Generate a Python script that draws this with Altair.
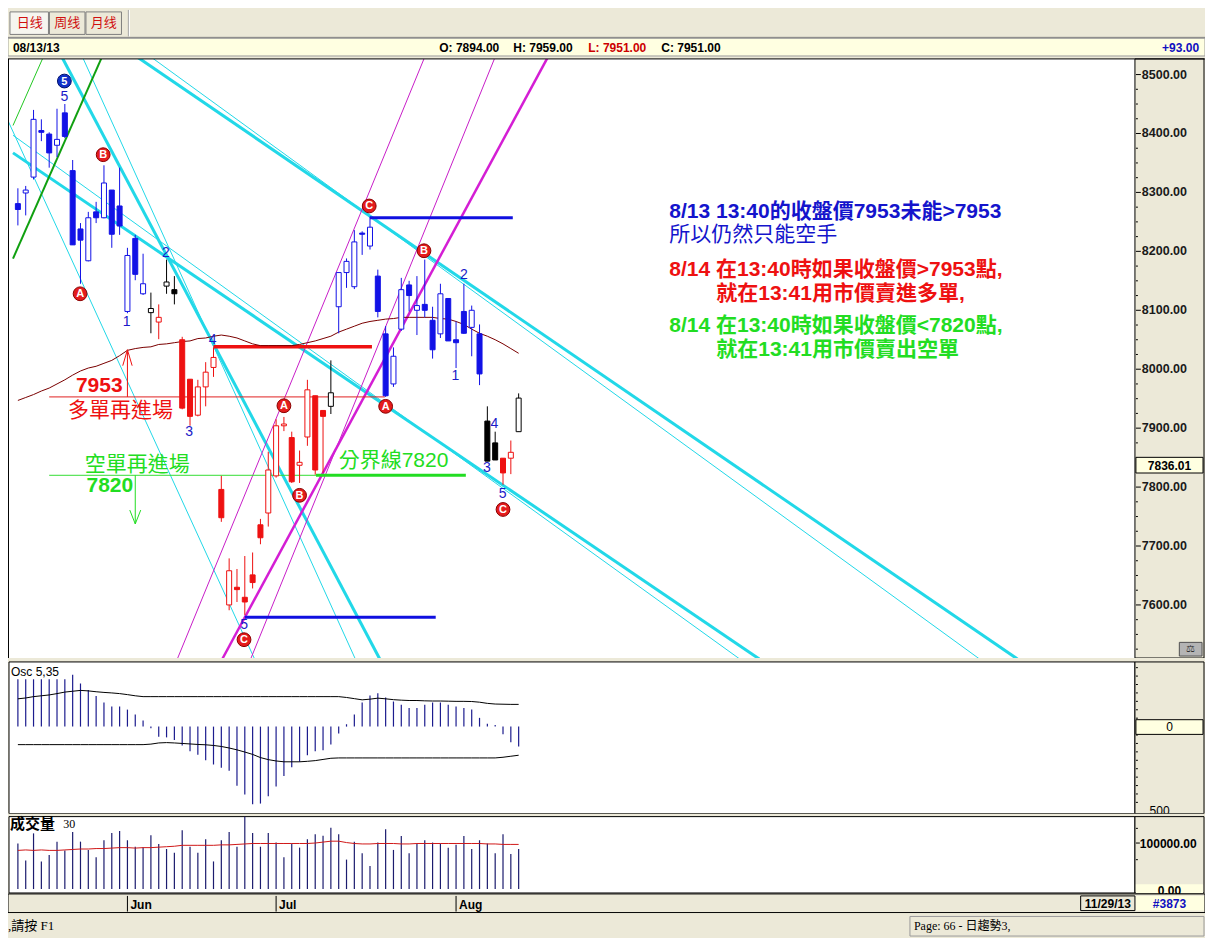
import altair as alt
import pandas as pd

# ---------------- data (bar 0 = 2013-05-14 ... bar 64 = 2013-08-13) ----------------
OPEN = [8281, 8299, 8326, 8405, 8399, 8380, 8435, 8337, 8238, 8184,
        8267, 8257, 8304, 8277, 8098, 8222, 8128, 8096, 8080, 8141,
        8135, 8050, 7983, 7922, 7970, 8003, 7796, 7600, 7630, 7613,
        7651, 7736, 7756, 7819, 7904, 7884, 7837, 7885, 7955, 7930,
        7937, 8106, 8164, 8140, 8231, 8209, 8158, 8060, 7975, 8068,
        8143, 8100, 8110, 8083, 8060, 8120, 8050, 8098, 8071, 8060,
        7912, 7875, 7849, 7849, 7894]
HIGH = [8307, 8311, 8440, 8424, 8402, 8442, 8450, 8355, 8248, 8267,
        8284, 8346, 8304, 8342, 8206, 8228, 8196, 8130, 8110, 8186,
        8158, 8055, 7983, 7982, 8012, 8037, 7819, 7679, 7661, 7683,
        7689, 7746, 7860, 7915, 7919, 7894, 7862, 7982, 7955, 7930,
        8015, 8164, 8188, 8236, 8234, 8259, 8169, 8073, 8037, 8155,
        8150, 8158, 8186, 8106, 8145, 8120, 8081, 8145, 8108, 8076,
        7937, 7894, 7849, 7879, 7959]
LOW = [8244, 8261, 8322, 8387, 8342, 8360, 8392, 8211, 8145, 8183,
       8248, 8256, 8206, 8228, 8095, 8151, 8126, 8061, 8051, 8128,
       8110, 7932, 7904, 7920, 7937, 7987, 7741, 7591, 7605, 7583,
       7628, 7703, 7733, 7816, 7895, 7807, 7807, 7870, 7821, 7824,
       7924, 8061, 8138, 8136, 8194, 8203, 8088, 7953, 7970, 8065,
       8098, 8058, 8088, 8018, 8053, 8048, 8002, 8060, 8022, 7973,
       7844, 7846, 7804, 7822, 7894]
CLOSE = [8271, 8304, 8424, 8402, 8367, 8390, 8395, 8211, 8219, 8257,
         8257, 8316, 8229, 8243, 8193, 8161, 8145, 8103, 8088, 8148,
         8128, 7934, 7920, 7970, 7995, 8020, 7748, 7658, 7626, 7605,
         7638, 7714, 7829, 7904, 7907, 7809, 7842, 7965, 7829, 7920,
         7960, 8164, 8183, 8216, 8229, 8241, 8098, 7955, 8022, 8135,
         8125, 8108, 8100, 8033, 8128, 8048, 8045, 8061, 8100, 7992,
         7844, 7846, 7824, 7859, 7951]
GROUP = (["blue"] * 17 + ["black", "red", "black", "black"] + ["red"] * 19
         + ["black"] + ["blue"] * 19 + ["black", "black", "red", "red", "black"])
MA = [7947, 7952, 7957, 7963, 7968, 7975, 7982, 7990, 7997, 8002,
      8005, 8010, 8015, 8023, 8032, 8035, 8037, 8038, 8042, 8043,
      8045, 8047, 8048, 8052, 8053, 8056, 8058, 8056, 8053, 8048,
      8043, 8040, 8040, 8040, 8040, 8040, 8042, 8045, 8048, 8052,
      8056, 8063, 8068, 8073, 8078, 8081, 8083, 8085, 8086, 8088,
      8088, 8088, 8088, 8088, 8086, 8085, 8081, 8076, 8068, 8061,
      8056, 8050, 8043, 8035, 8027]
OSC = [281, 281, 281, 281, 281, 281, 281, 308, 256, 217,
       182, 143, 120, 120, 101, 72, 37, -10, -60, -64,
       -80, -112, -147, -167, -200, -225, -244, -262, -351, -403,
       -461, -457, -413, -355, -293, -242, -209, -170, -147, -141,
       -106, -41, 14, 72, 143, 184, 198, 173, 149, 130,
       110, 110, 130, 143, 143, 130, 120, 110, 101, 52,
       17, 10, -45, -93, -118]
OSC_UP = [165, 170, 178, 183, 188, 196, 205, 210, 215, 212,
          207, 203, 200, 196, 190, 183, 178, 178, 178, 178,
          178, 178, 178, 178, 178, 178, 178, 178, 178, 178,
          178, 178, 178, 178, 178, 178, 178, 178, 178, 178,
          178, 178, 173, 166, 159, 163, 169, 165, 160, 157,
          155, 155, 153, 152, 152, 151, 150, 150, 149, 145,
          138, 134, 133, 132, 132]
OSC_DN = [-107, -107, -107, -107, -107, -107, -107, -107, -107, -107,
          -107, -107, -107, -107, -107, -107, -107, -104, -97, -95,
          -97, -100, -103, -106, -108, -112, -118, -127, -138, -151,
          -165, -184, -196, -204, -209, -209, -209, -206, -202, -195,
          -188, -186, -186, -186, -186, -186, -186, -186, -186, -186,
          -186, -186, -186, -186, -186, -186, -186, -186, -186, -186,
          -186, -186, -182, -176, -170]
VOL = [99, 62, 121, 60, 74, 103, 84, 124, 103, 85,
       69, 106, 122, 126, 106, 92, 91, 117, 98, 87,
       79, 128, 92, 79, 108, 60, 106, 124, 92, 157,
       122, 92, 122, 101, 69, 99, 90, 108, 119, 116,
       133, 119, 64, 103, 78, 50, 101, 130, 85, 115,
       78, 99, 106, 101, 99, 90, 96, 115, 87, 106,
       99, 78, 119, 76, 87]
VOL_MA = [84, 85, 84, 85, 84, 84, 85, 86, 87, 87,
          88, 88, 89, 90, 90, 89, 90, 90, 91, 92,
          93, 95, 95, 95, 95, 95, 96, 96, 97, 98,
          99, 99, 99, 99, 99, 99, 99, 99, 100, 102,
          104, 104, 101, 99, 98, 98, 99, 99, 99, 98,
          98, 99, 99, 99, 99, 99, 99, 99, 99, 99,
          98, 98, 97, 97, 97]
MONTH_BAR = [14, 33, 56]
MONTH_LABEL = ["Jun", "Jul", "Aug"]
PRICE_TICKS = [7600, 7700, 7800, 7900, 8000, 8100, 8200, 8300, 8400, 8500]

# drawn lines: start bar, start price, end bar, end price, kind
SEG_X1 = [-0.625, -0.625, 15.25, 17.0, 5.625, 8.25, -5.0, -0.625, -0.625, 26.125, 20.375, 29.75,
          25, 4, 4, 38.1, 45, 29]
SEG_P1 = [8367.1, 8397.0, 8529.9, 8529.9, 8529.9, 8529.9, 8529.9, 8187.7, 8413.6, 7508.3, 7508.3, 7508.3,
          8038, 7953, 7820, 7820, 8257, 7579]
SEG_X2 = [94.75, 92.25, 127.75, 122.9, 46.25, 43.125, 30.25, 10.75, 3.25, 67.75, 52.0, 61.0,
          45.25, 46.9, 38.25, 57.25, 63.25, 53.4]
SEG_P2 = [7508.3, 7508.3, 7508.3, 7508.3, 7508.3, 7508.3, 7508.3, 8529.9, 8529.9, 8529.9, 8529.9, 8529.9,
          8038, 7953, 7820, 7820, 8257, 7579]
SEG_KIND = ["cyan-thick", "cyan-thin", "cyan-thick", "cyan-thin", "cyan-thick", "cyan-thin", "cyan-thin",
            "green-thick", "green-thin", "magenta-thick", "magenta-thin", "magenta-thin",
            "red-thick", "red-thin", "lime-thin", "lime-thick", "blue-thick", "blue-thick"]

ARW_X1 = [14, 14, 14, 15, 15, 15]
ARW_P1 = [7953, 8033, 8033, 7820, 7737.5, 7737.5]
ARW_X2 = [14, 13.4, 14.6, 15, 14.3, 15.7]
ARW_P2 = [8033, 8006, 8006, 7737.5, 7761, 7761]
ARW_KIND = ["red", "red", "red", "lime", "lime", "lime"]

WAVE_TEXT = ["5", "2", "1", "4", "3", "5", "2", "1", "3", "4", "5"]
WAVE_BAR = [5.94, 18.9, 13.9, 24.9, 21.9, 28.9, 57.0, 55.9, 59.95, 60.9, 61.96]
WAVE_PRICE = [8462, 8198, 8080, 8050, 7893, 7566, 8160, 7989, 7832, 7907, 7789]

MARK_TEXT = ["5", "B", "A", "C", "B", "A", "A", "B", "C", "C"]
MARK_BAR = [5.94, 10.9, 7.95, 44.9, 51.9, 34.0, 47.0, 36.0, 28.9, 62.0]
MARK_PRICE = [8489, 8364, 8128, 8277, 8201, 7938, 7937, 7786, 7541, 7762]
MARK_KIND = ["blue", "red", "red", "red", "red", "red", "red", "red", "red", "red"]

NOTE_TEXT = ["8/13 13:40的收盤價7953未能>7953", "所以仍然只能空手",
             "8/14 在13:40時如果收盤價>7953點,", "就在13:41用市價賣進多單,",
             "8/14 在13:40時如果收盤價<7820點,", "就在13:41用市價賣出空單"]
NOTE_BAR = [83.25, 83.25, 83.25, 89.25, 83.25, 89.25]
NOTE_PRICE = [8267, 8228, 8169, 8128, 8074, 8033]
NOTE_KIND = ["blue", "blue", "red", "red", "lime", "lime"]

LBL_TEXT = ["7953", "多單再進場", "空單再進場", "7820", "分界線7820"]
LBL_BAR = [10.4, 13.1, 15.25, 11.75, 41.0]
LBL_PRICE = [7972, 7929, 7837, 7801, 7844]
LBL_KIND = ["red", "red", "lime", "lime", "lime"]

# ---------------- layout / styles ----------------
W, H = 1197, 930
SX, SY = W / 1213, H / 950


def px(v):
    return round(v * SX, 2)


def py(v):
    return round(v * SY, 2)


BEIGE = "#ECE9D8"
PALE = "#FFFFE1"
SANS = "Liberation Sans, Noto Sans CJK TC"
SERIF = "Liberation Serif, Noto Sans CJK TC"
COLORS = {"blue": "#1212E6", "red": "#EE1111", "black": "#000000", "lime": "#22DD22"}
SEG_STYLE = {"cyan-thick": ("#22D8E8", 3), "cyan-thin": ("#22D8E8", 1),
             "green-thick": ("#10A010", 2), "green-thin": ("#22C822", 1),
             "magenta-thick": ("#D41ED4", 2.5), "magenta-thin": ("#C81EC8", 1),
             "red-thick": ("#EE1111", 3.5), "red-thin": ("#E02020", 1),
             "lime-thin": ("#33DD33", 1), "lime-thick": ("#22DD22", 3),
             "blue-thick": ("#1010E0", 3)}

XS = alt.Scale(domain=[-0.625, 142.125], range=[px(0), px(1142)], nice=False, zero=False)
YP = alt.Scale(domain=[7511.6, 8524.9], range=[py(663), py(53)], nice=False, zero=False)
YO = alt.Scale(domain=[-517, 384], range=[py(823), py(668)], nice=False, zero=False)
YV = alt.Scale(domain=[0, 157.4], range=[py(900), py(826)], nice=False, zero=False)

ONE = pd.DataFrame({"k": [0]})
layers = []


def rect(x0, y0, x1, y1, fill, stroke=None, sw=1.0):
    props = dict(fill=fill, strokeWidth=(sw if stroke else 0))
    if stroke:
        props["stroke"] = stroke
    return alt.Chart(ONE).mark_rect(**props).encode(
        x=alt.value(px(x0)), x2=alt.value(px(x1)), y=alt.value(py(y0)), y2=alt.value(py(y1)))


def seg(x0, y0, x1, y1, color, sw=1.0):
    return alt.Chart(ONE).mark_rule(color=color, strokeWidth=sw).encode(
        x=alt.value(px(x0)), x2=alt.value(px(x1)), y=alt.value(py(y0)), y2=alt.value(py(y1)))


def txt(x, y, s, size=12, color="#000000", weight="normal", align="left", baseline="middle", font=SANS):
    return alt.Chart(ONE).mark_text(text=s, fontSize=size, color=color, fontWeight=weight, align=align,
                                    baseline=baseline, font=font).encode(x=alt.value(px(x)), y=alt.value(py(y)))


def X(f):
    return alt.X(f, type="quantitative", scale=XS, axis=None)


def Y(f, sc):
    return alt.Y(f, type="quantitative", scale=sc, axis=None)


# ---------------- main price panel ----------------
layers.append(rect(1, 52, 1142, 664, "#FFFFFF"))

segdf = pd.DataFrame({"x1": SEG_X1, "p1": SEG_P1, "x2": SEG_X2, "p2": SEG_P2, "kind": SEG_KIND})
order = ["cyan-thin", "cyan-thick", "green-thin", "green-thick", "magenta-thin", "magenta-thick",
         "red-thin", "lime-thin", "red-thick", "lime-thick", "blue-thick"]
for kind in order:
    col, w = SEG_STYLE[kind]
    layers.append(alt.Chart(segdf).transform_filter(alt.datum.kind == kind).mark_rule(
        color=col, strokeWidth=w).encode(x=X("x1"), x2="x2:Q", y=Y("p1", YP), y2="p2:Q"))

madf = pd.DataFrame({"i": list(range(len(MA))), "ma": MA})
layers.append(alt.Chart(madf).mark_line(color="#7A0000", strokeWidth=1).encode(x=X("i"), y=Y("ma", YP)))

cdf = pd.DataFrame({"i": list(range(len(OPEN))), "o": OPEN, "h": HIGH, "l": LOW, "c": CLOSE, "g": GROUP})
cdf["col"] = cdf["g"].map(COLORS)
cdf["top"] = cdf[["o", "c"]].max(axis=1)
cdf["bot"] = cdf[["o", "c"]].min(axis=1)
cdf["fill"] = [col if c < o else "#FFFFFF" for col, o, c in zip(cdf["col"], cdf["o"], cdf["c"])]
layers.append(alt.Chart(cdf).mark_rule(strokeWidth=1).encode(
    x=X("i"), y=Y("l", YP), y2="h:Q", color=alt.Color("col:N", scale=None)))
layers.append(alt.Chart(cdf).mark_bar(size=5, strokeWidth=1).encode(
    x=X("i"), y=Y("top", YP), y2="bot:Q", fill=alt.Fill("fill:N", scale=None),
    stroke=alt.Stroke("col:N", scale=None)))

arw = pd.DataFrame({"x1": ARW_X1, "p1": ARW_P1, "x2": ARW_X2, "p2": ARW_P2, "kind": ARW_KIND})
arw["col"] = arw["kind"].map(COLORS)
layers.append(alt.Chart(arw).mark_rule(strokeWidth=1).encode(
    x=X("x1"), x2="x2:Q", y=Y("p1", YP), y2="p2:Q", color=alt.Color("col:N", scale=None)))

wave = pd.DataFrame({"i": WAVE_BAR, "p": WAVE_PRICE, "t": WAVE_TEXT})
layers.append(alt.Chart(wave).mark_text(fontSize=14, color="#1A1AC8", font=SANS, align="center",
                                        baseline="middle").encode(x=X("i"), y=Y("p", YP), text="t:N"))

mk = pd.DataFrame({"i": MARK_BAR, "p": MARK_PRICE, "t": MARK_TEXT, "k": MARK_KIND})
mk["fc"] = mk["k"].map({"red": "#E41C1C", "blue": "#1030C8"})
mk["sc"] = mk["k"].map({"red": "#8A0000", "blue": "#00106A"})
layers.append(alt.Chart(mk).mark_point(filled=True, size=190, opacity=1, strokeWidth=1).encode(
    x=X("i"), y=Y("p", YP), fill=alt.Fill("fc:N", scale=None), stroke=alt.Stroke("sc:N", scale=None)))
layers.append(alt.Chart(mk).mark_text(fontSize=11, fontWeight="bold", color="#FFFFFF", font=SANS,
                                      align="center", baseline="middle", dy=0.5).encode(
    x=X("i"), y=Y("p", YP), text="t:N"))

lbl = pd.DataFrame({"i": LBL_BAR, "p": LBL_PRICE, "t": LBL_TEXT, "k": LBL_KIND})
lbl["col"] = lbl["k"].map(COLORS)
for idx, (weight, align) in enumerate([("bold", "center"), ("normal", "center"), ("normal", "center"),
                                        ("bold", "center"), ("normal", "left")]):
    layers.append(alt.Chart(lbl.iloc[[idx]]).mark_text(fontSize=21, fontWeight=weight, font=SANS, align=align,
                                                       baseline="middle").encode(
        x=X("i"), y=Y("p", YP), text="t:N", color=alt.Color("col:N", scale=None)))

notes = pd.DataFrame({"i": NOTE_BAR, "p": NOTE_PRICE, "t": NOTE_TEXT, "k": NOTE_KIND})
notes["col"] = notes["k"].map({"blue": "#1414CC", "red": "#EE1111", "lime": "#22DD22"})
notes["w"] = ["bold", "normal", "bold", "bold", "bold", "bold"]
for weight in ["bold", "normal"]:
    layers.append(alt.Chart(notes[notes["w"] == weight]).mark_text(
        fontSize=21, fontWeight=weight, font=SANS, align="left", baseline="middle").encode(
        x=X("i"), y=Y("p", YP), text="t:N", color=alt.Color("col:N", scale=None)))

# ---------------- top chrome ----------------
layers += [
    rect(0, 0, 1213, 52, BEIGE),
    rect(2, 4, 41, 27, "#F6F5EF", "#7F7F7F"),
    rect(42, 4, 78, 27, BEIGE, "#7F7F7F"),
    rect(79, 4, 115, 27, BEIGE, "#7F7F7F"),
    seg(122, 2, 122, 29, "#9D9D9D"),
    seg(123, 2, 123, 29, "#FFFFFF"),
    txt(22, 15.5, "日线", 13, "#D01010", font="Noto Sans CJK SC", align="center"),
    txt(60, 15.5, "周线", 13, "#D01010", font="Noto Sans CJK SC", align="center"),
    txt(97, 15.5, "月线", 13, "#D01010", font="Noto Sans CJK SC", align="center"),
    seg(0, 30, 1213, 30, "#7F7F7F"),
    rect(0, 31, 1213, 49, PALE, "#9D9D9D"),
    txt(5, 40.5, "08/13/13", 12, weight="bold"),
    txt(437, 40.5, "O: 7894.00", 12, weight="bold"),
    txt(512, 40.5, "H: 7959.00", 12, weight="bold"),
    txt(588, 40.5, "L: 7951.00", 12, "#CC0000", weight="bold"),
    txt(662, 40.5, "C: 7951.00", 12, weight="bold"),
    txt(1207, 40.5, "+93.00", 12, "#1010C0", weight="bold", align="right"),
]

# ---------------- price axis panel ----------------
layers.append(rect(1142, 52, 1212, 664, BEIGE, "#000000"))
ptick = pd.DataFrame({"p": PRICE_TICKS, "s": [f"{p:.2f}" for p in PRICE_TICKS]})
minor = pd.DataFrame({"p": [v for v in range(7525, 8525, 25) if v % 100 != 0]})
layers.append(alt.Chart(minor).mark_rule(color="#000000", strokeWidth=1).encode(
    x=alt.value(px(1143)), x2=alt.value(px(1145)), y=Y("p", YP)))
layers.append(alt.Chart(ptick).mark_rule(color="#000000", strokeWidth=1).encode(
    x=alt.value(px(1143)), x2=alt.value(px(1148)), y=Y("p", YP)))
layers.append(alt.Chart(ptick).mark_text(align="left", baseline="middle", fontSize=12.5, fontWeight="bold",
                                         font=SANS, color="#1A1A1A").encode(
    x=alt.value(px(1149)), y=Y("p", YP), text="s:N"))
layers += [
    rect(1143, 459, 1211, 475, PALE, "#000000"),
    txt(1177, 467.5, "7836.01", 12, weight="bold", align="center"),
    rect(1187, 648, 1210, 662, "#B4B4B4", "#505050"),
    txt(1198.5, 655, "⚖", 10, "#303030", align="center"),
    seg(0.5, 52, 0.5, 664, "#000000"),
    seg(0, 52, 1213, 52, "#000000"),
    rect(0, 664, 1213, 668, BEIGE),
]

# ---------------- oscillator panel ----------------
layers += [rect(1, 668, 1142, 823, "#FFFFFF", "#000000"), rect(1142, 668, 1212, 823, BEIGE, "#000000")]
odf = pd.DataFrame({"i": list(range(len(OSC))), "v": OSC, "up": OSC_UP, "dn": OSC_DN, "z": [0] * len(OSC)})
layers.append(alt.Chart(odf).mark_rule(color="#1C1C8E", strokeWidth=1.2).encode(
    x=X("i"), y=Y("z", YO), y2="v:Q"))
layers.append(alt.Chart(odf).mark_line(color="#000000", strokeWidth=1).encode(x=X("i"), y=Y("up", YO)))
layers.append(alt.Chart(odf).mark_line(color="#000000", strokeWidth=1).encode(x=X("i"), y=Y("dn", YO)))
otick = pd.DataFrame({"v": [-450, -400, -350, -300, -250, -200, -150, -100, -50, 50, 100, 150, 200, 250, 300, 350]})
layers.append(alt.Chart(otick).mark_rule(color="#000000", strokeWidth=1).encode(
    x=alt.value(px(1143)), x2=alt.value(px(1145)), y=Y("v", YO)))
layers += [
    txt(3, 678, "Osc 5,35", 12),
    rect(1143, 727, 1211, 742, PALE, "#000000"),
    txt(1177, 734.5, "0", 12, align="center"),
    txt(1167, 815, "500", 12, align="center", baseline="top"),
    rect(0, 823, 1213, 826, BEIGE),
]

# ---------------- volume panel ----------------
layers += [rect(1, 826, 1142, 904, "#FFFFFF", "#000000"), rect(1142, 826, 1212, 904, BEIGE, "#000000")]
vdf = pd.DataFrame({"i": list(range(len(VOL))), "v": VOL, "ma": VOL_MA, "z": [0] * len(VOL)})
layers.append(alt.Chart(vdf).mark_rule(color="#1C1C6E", strokeWidth=1.2).encode(
    x=X("i"), y=Y("z", YV), y2="v:Q"))
layers.append(alt.Chart(vdf).mark_line(color="#D01818", strokeWidth=1).encode(x=X("i"), y=Y("ma", YV)))
layers += [
    txt(2, 834, "成交量", 15, weight="bold", font="Noto Sans CJK TC"),
    txt(56, 834, "30", 12, font=SERIF),
    seg(1143, 853, 1147, 853, "#000000"),
    seg(1143, 838, 1145, 838, "#000000"),
    seg(1143, 870, 1145, 870, "#000000"),
    txt(1147, 853.5, "100000.00", 12, weight="bold"),
    rect(1143, 895, 1211, 904, PALE),
    txt(1177, 897, "0.00", 12, weight="bold", align="center", baseline="top"),
]

# ---------------- date bar and status bar ----------------
layers += [rect(0, 905, 1213, 924, BEIGE, "#000000")]
mdf = pd.DataFrame({"i": MONTH_BAR, "t": MONTH_LABEL})
layers.append(alt.Chart(mdf).mark_rule(color="#000000", strokeWidth=1).encode(
    x=X("i"), y=alt.value(py(907)), y2=alt.value(py(923))))
layers.append(alt.Chart(mdf).mark_text(align="left", baseline="middle", fontSize=12, fontWeight="bold",
                                       font=SANS, dx=3).encode(x=X("i"), y=alt.value(py(916)), text="t:N"))
layers += [
    rect(1087, 907, 1142, 922, BEIGE, "#000000"),
    txt(1114.5, 915, "11/29/13", 12, weight="bold", align="center"),
    rect(1143, 907, 1212, 922, PALE),
    txt(1177, 915, "#3873", 12, "#1010C0", weight="bold", align="center"),
    rect(0, 925, 1213, 950, BEIGE),
    txt(0, 938, ",請按 F1", 13, font=SERIF),
    rect(914, 928, 1212, 948, BEIGE, "#9A9A9A"),
    txt(918, 938, "Page: 66 - 日趨勢3,", 12, font=SERIF),
]

chart = alt.layer(*layers).resolve_scale(y="independent").properties(
    width=W, height=H, padding=0, background=BEIGE,
    autosize=alt.AutoSizeParams(type="none")
).configure_view(stroke=None)

chart.save("out.html", embed_options={"renderer": "svg", "actions": False})
